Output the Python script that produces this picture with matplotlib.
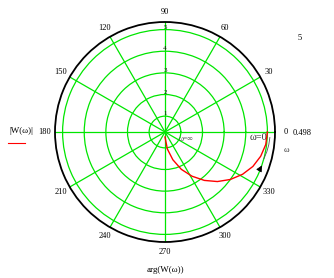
import numpy as np
import matplotlib.pyplot as plt

# Nyquist curve (angle in degrees, magnitude)
theta_deg = [0, -7.1, -14.2, -21.4, -28.6, -36.0, -43.4, -50.9, -58.6, -66.4, -74.2, -82.1, -90]
mag = [5.0, 4.96, 4.83, 4.63, 4.35, 4.00, 3.60, 3.15, 2.66, 2.15, 1.60, 1.06, 0.498]

r_min = 0.498
r_max = 5
angle_ticks = [0, 30, 60, 90, 120, 150, 180, 210, 240, 270, 300, 330]
radial_ticks = [1, 2, 3, 4, 5]

plt.rcParams['font.family'] = ['Liberation Serif', 'DejaVu Serif']

fig = plt.figure(figsize=(3.34, 2.78), dpi=100)
ax = fig.add_axes([55/334, 36/278, 220/334, 220/278], projection='polar')

ax.plot(np.radians(theta_deg), mag, color='red', lw=1.0, zorder=5)

ax.set_rmin(r_min)
ax.set_rmax(r_max)
ax.set_rticks(radial_ticks)
ax.set_rlabel_position(90)
ax.set_thetagrids(angle_ticks, [str(a) for a in angle_ticks])
ax.grid(True, color='#00e600', lw=0.9)
ax.tick_params(axis='x', labelsize=6, pad=-3)
ax.tick_params(axis='y', labelsize=5, colors='#111111')
for lbl in ax.get_yticklabels():
    lbl.set_horizontalalignment('center')
ax.spines['polar'].set_color('black')
ax.spines['polar'].set_linewidth(1.3)

# direction marker next to omega=0
arc_t = np.radians([-3, -7, -11, -15])
ax.plot(arc_t, [5.12, 5.1, 5.06, 5.0], color='#555555', lw=0.6, clip_on=False)
ax.annotate('', xy=(np.radians(-17.5), 5.03), xytext=(np.radians(-22), 4.97),
            arrowprops=dict(arrowstyle='-|>', color='black', lw=0.6, mutation_scale=9),
            annotation_clip=False)

ax.text(np.radians(-0.5), 4.6, 'ω=0', fontsize=7.5, color='#333333', ha='center', va='top')
ax.text(np.radians(-19), 1.3, 'ω=∞', fontsize=5.5, color='#555555', ha='center', va='center')
ax.text(np.radians(-8.3), 5.95, 'ω', fontsize=6, color='#333333', ha='center', va='center',
        clip_on=False)

fig.text(302/334, 1 - 133/278, '0.498', fontsize=6, ha='center', va='center')
fig.text(300/334, 1 - 38/278, '5', fontsize=6, ha='center', va='center')
fig.text(21/334, 1 - 131/278, '|W(ω)|', fontsize=6.5, ha='center', va='center')
fig.add_artist(plt.Line2D([8/334, 25/334], [1 - 143/278, 1 - 143/278], color='red', lw=0.8))
fig.text(165/334, 1 - 270/278, 'arg(W(ω))', fontsize=6.5, ha='center', va='center')

fig.savefig('out.png', dpi=100)
